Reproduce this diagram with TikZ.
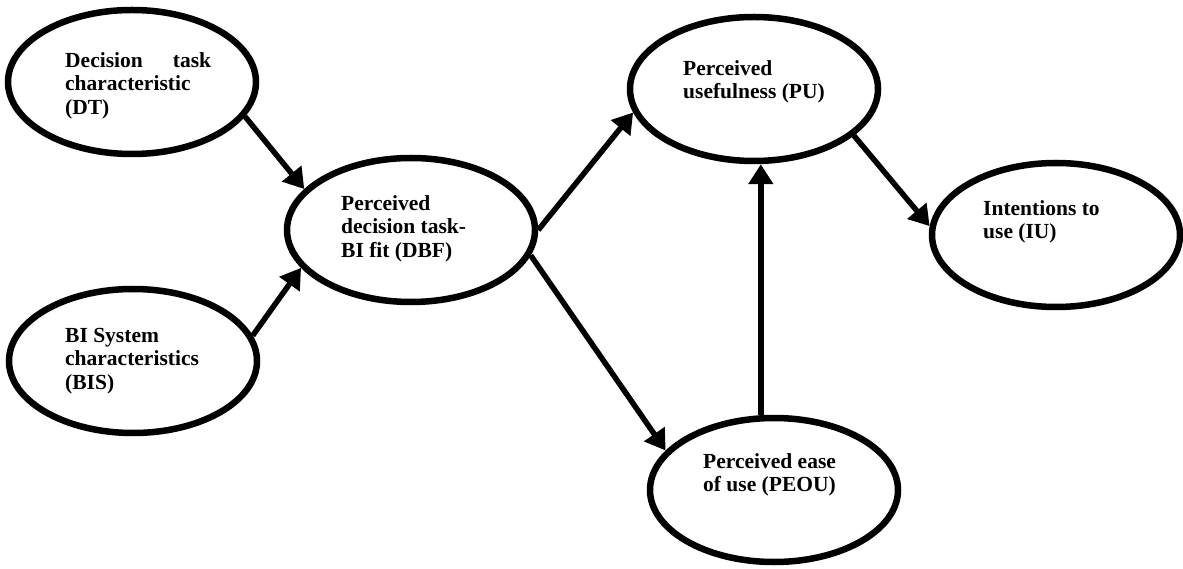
\documentclass[tikz,border=0pt]{standalone}
\usepackage{fontspec}
\setmainfont{Liberation Serif}
\usetikzlibrary{shapes.geometric,arrows.meta}
\begin{document}
\begin{tikzpicture}[x=1pt,y=-1pt,
  construct/.style={ellipse,draw,line width=6.5pt,minimum width=248pt,minimum height=144pt,inner sep=0pt},
  lbl/.style={anchor=north west,inner sep=0pt,align=left,font=\fontsize{21.5pt}{23.5pt}\selectfont\bfseries},
  link/.style={line width=5.5pt,-{Triangle[length=20pt,width=24pt]}}]
\useasboundingbox[fill=white] (0,0) rectangle (1183,569);

\node[construct] (dt)   at (132,82)  {};
\node[construct] (bis)  at (133,361) {};
\node[construct] (dbf)  at (411,230) {};
\node[construct] (pu)   at (754,89)  {};
\node[construct] (iu)   at (1056,235) {};
\node[construct] (peou) at (774,490) {};

\node[lbl] (dtT)   at (65,52)  {\makebox[146pt][s]{Decision\hfill task}\\characteristic\\(DT)};
\node[lbl] (bisT)  at (65,328) {BI System\\characteristics\\(BIS)};
\node[lbl] (dbfT)  at (341,195) {Perceived\\decision task-\\BI fit (DBF)};
\node[lbl] (puT)   at (683,60) {Perceived\\usefulness (PU)};
\node[lbl] (iuT)   at (983,200) {Intentions to\\use (IU)};
\node[lbl] (peouT) at (703,453) {Perceived ease\\of use (PEOU)};

\draw[link] (dt.-17.8) -- (dbf.159.3);
\draw[link] (bis.12.9) -- (dbf.-161.3);
\draw[link] (dbf.0) -- (pu.-169);
\draw[link] (dbf.-12.5) -- (peou.160.9);
\draw[link] (peou.100.9) -- (peou.100.9 |- pu.south);
\draw[link] (pu.-25) -- (iu.176.4);
\end{tikzpicture}
\end{document}
